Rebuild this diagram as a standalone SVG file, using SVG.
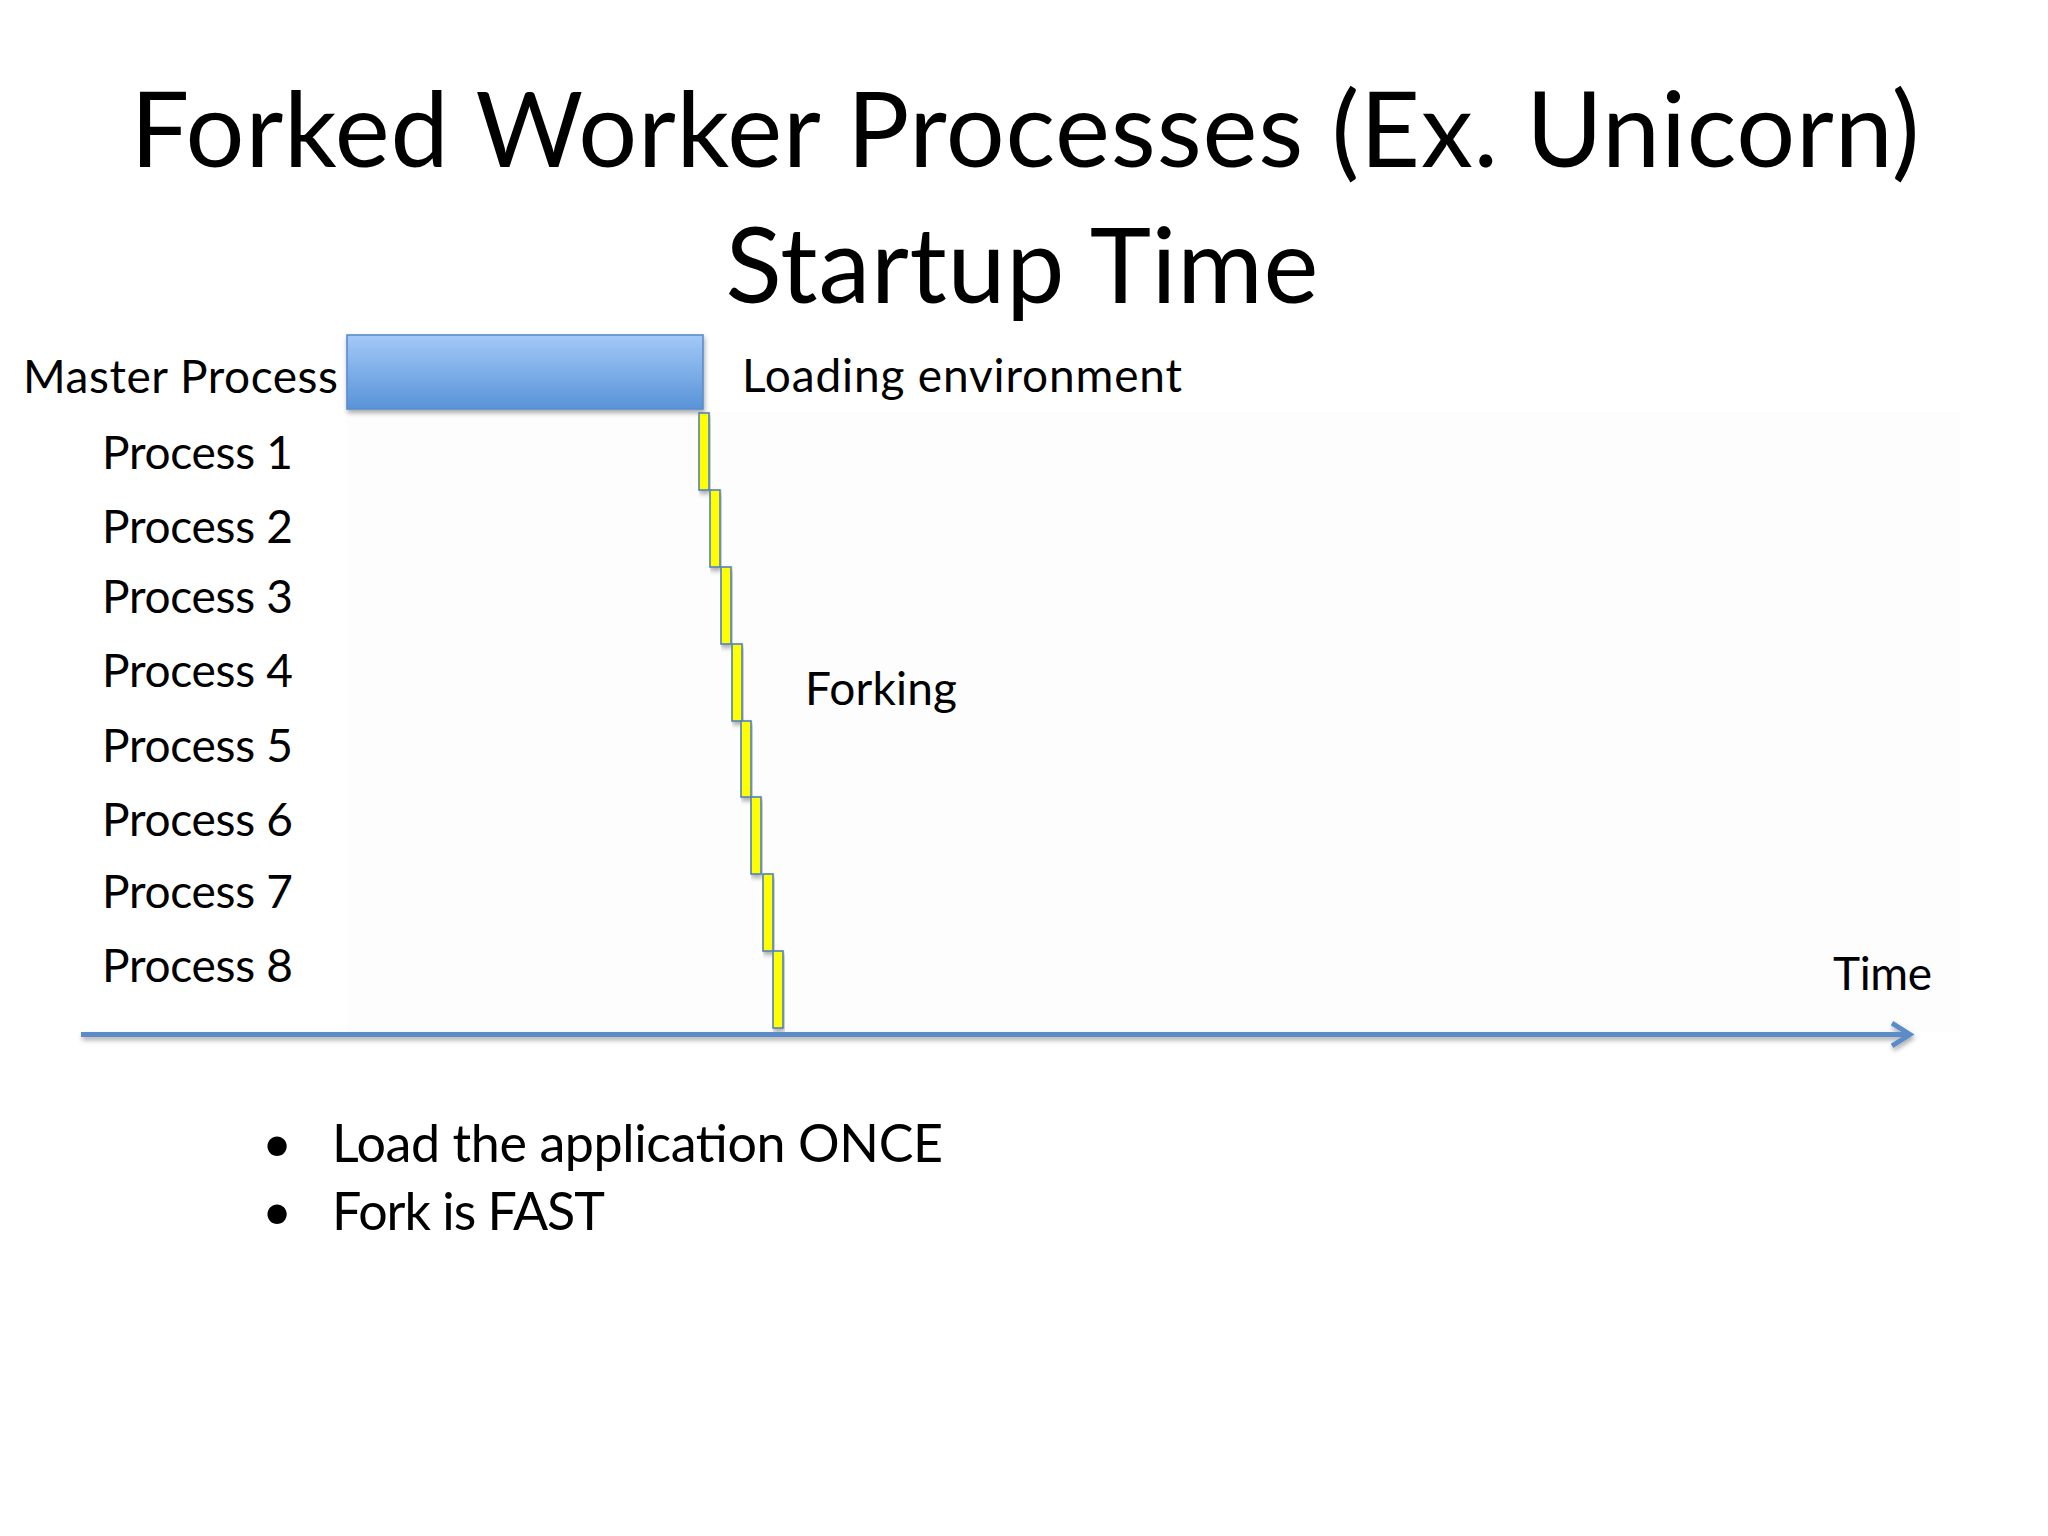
<svg xmlns="http://www.w3.org/2000/svg" width="2048" height="1536" viewBox="0 0 2048 1536">
  <style>
    text { font-family: "Lato", "Open Sans", "Liberation Sans", sans-serif; fill: #000; }
    .title { font-size: 104px; }
    .label { font-size: 46px; }
    .bullet { font-size: 52px; }
    .ybar { fill: #ffff00; stroke: #4f81bd; stroke-width: 1.6; }
    .axis { stroke: #5b8cc8; stroke-width: 5; fill: none; stroke-linecap: butt; }
  </style>
  <defs>
    <linearGradient id="blueGrad" x1="0" y1="0" x2="0" y2="1">
      <stop offset="0" stop-color="#a3c9f8"/>
      <stop offset="1" stop-color="#5893d8"/>
    </linearGradient>
    <filter id="shadow" x="-10%" y="-20%" width="130%" height="160%">
      <feGaussianBlur in="SourceAlpha" stdDeviation="2.5"/>
      <feOffset dx="1" dy="3" result="b"/>
      <feComponentTransfer><feFuncA type="linear" slope="0.35"/></feComponentTransfer>
      <feMerge><feMergeNode/><feMergeNode in="SourceGraphic"/></feMerge>
    </filter>
    <filter id="lineShadow" filterUnits="userSpaceOnUse" x="0" y="980" width="2048" height="100">
      <feGaussianBlur in="SourceAlpha" stdDeviation="2.5"/>
      <feOffset dx="1" dy="3" result="b"/>
      <feComponentTransfer><feFuncA type="linear" slope="0.35"/></feComponentTransfer>
      <feMerge><feMergeNode/><feMergeNode in="SourceGraphic"/></feMerge>
    </filter>
    <marker id="openArrow" markerWidth="6" markerHeight="6" refX="8" refY="5" orient="auto" markerUnits="strokeWidth" viewBox="0 0 10 10">
      <path d="M2,1.2 L8,5 L2,8.8" fill="none" stroke="#5b8cc8" stroke-width="1.6" stroke-linejoin="miter" stroke-linecap="butt"/>
    </marker>
  </defs>

  <rect x="0" y="0" width="2048" height="1536" fill="#ffffff"/>
  <rect x="347" y="412" width="1613" height="620" fill="#fdfdfd"/>

  <g id="title">
    <text class="title" x="1025" y="167" text-anchor="middle" textLength="1789">Forked Worker Processes (Ex. Unicorn)</text>
    <text class="title" x="1022" y="303" text-anchor="middle" textLength="593">Startup Time</text>
  </g>

  <g id="master-process">
    <text class="label" x="23" y="393" textLength="315">Master Process</text>
    <rect x="347" y="335" width="356" height="74" fill="url(#blueGrad)" stroke="#5a8ccc" stroke-width="1.6" filter="url(#shadow)"/>
    <text class="label" x="742" y="392" textLength="440">Loading environment</text>
  </g>

  <g id="process-1"><text class="label" x="102" y="469" textLength="191">Process 1</text><rect class="ybar" x="699" y="413" width="10" height="77" filter="url(#shadow)"/></g>
  <g id="process-2"><text class="label" x="102" y="543" textLength="191">Process 2</text><rect class="ybar" x="710" y="490" width="10" height="77" filter="url(#shadow)"/></g>
  <g id="process-3"><text class="label" x="102" y="613" textLength="191">Process 3</text><rect class="ybar" x="721" y="567" width="10" height="77" filter="url(#shadow)"/></g>
  <g id="process-4"><text class="label" x="102" y="687" textLength="191">Process 4</text><rect class="ybar" x="732" y="644" width="10" height="77" filter="url(#shadow)"/></g>
  <g id="process-5"><text class="label" x="102" y="762" textLength="191">Process 5</text><rect class="ybar" x="741" y="721" width="10" height="76" filter="url(#shadow)"/></g>
  <g id="process-6"><text class="label" x="102" y="836" textLength="191">Process 6</text><rect class="ybar" x="751" y="797" width="10" height="77" filter="url(#shadow)"/></g>
  <g id="process-7"><text class="label" x="102" y="908" textLength="191">Process 7</text><rect class="ybar" x="763" y="874" width="10" height="77" filter="url(#shadow)"/></g>
  <g id="process-8"><text class="label" x="102" y="982" textLength="191">Process 8</text><rect class="ybar" x="773" y="951" width="10" height="77" filter="url(#shadow)"/></g>

  <g id="forking-label">
    <text class="label" x="805" y="705" textLength="152">Forking</text>
  </g>

  <g id="connectors">
    <line class="axis" x1="81" y1="1034.5" x2="1910" y2="1034.5" marker-end="url(#openArrow)" filter="url(#lineShadow)"/>
  </g>

  <g id="time-label">
    <text class="label" x="1833" y="990" textLength="99">Time</text>
  </g>

  <g id="bullets">
    <text class="bullet" x="277" y="1162" text-anchor="middle">•</text>
    <text class="bullet" x="332" y="1162" textLength="611">Load the application ONCE</text>
    <text class="bullet" x="277" y="1230" text-anchor="middle">•</text>
    <text class="bullet" x="332" y="1230" textLength="273">Fork is FAST</text>
  </g>
</svg>
